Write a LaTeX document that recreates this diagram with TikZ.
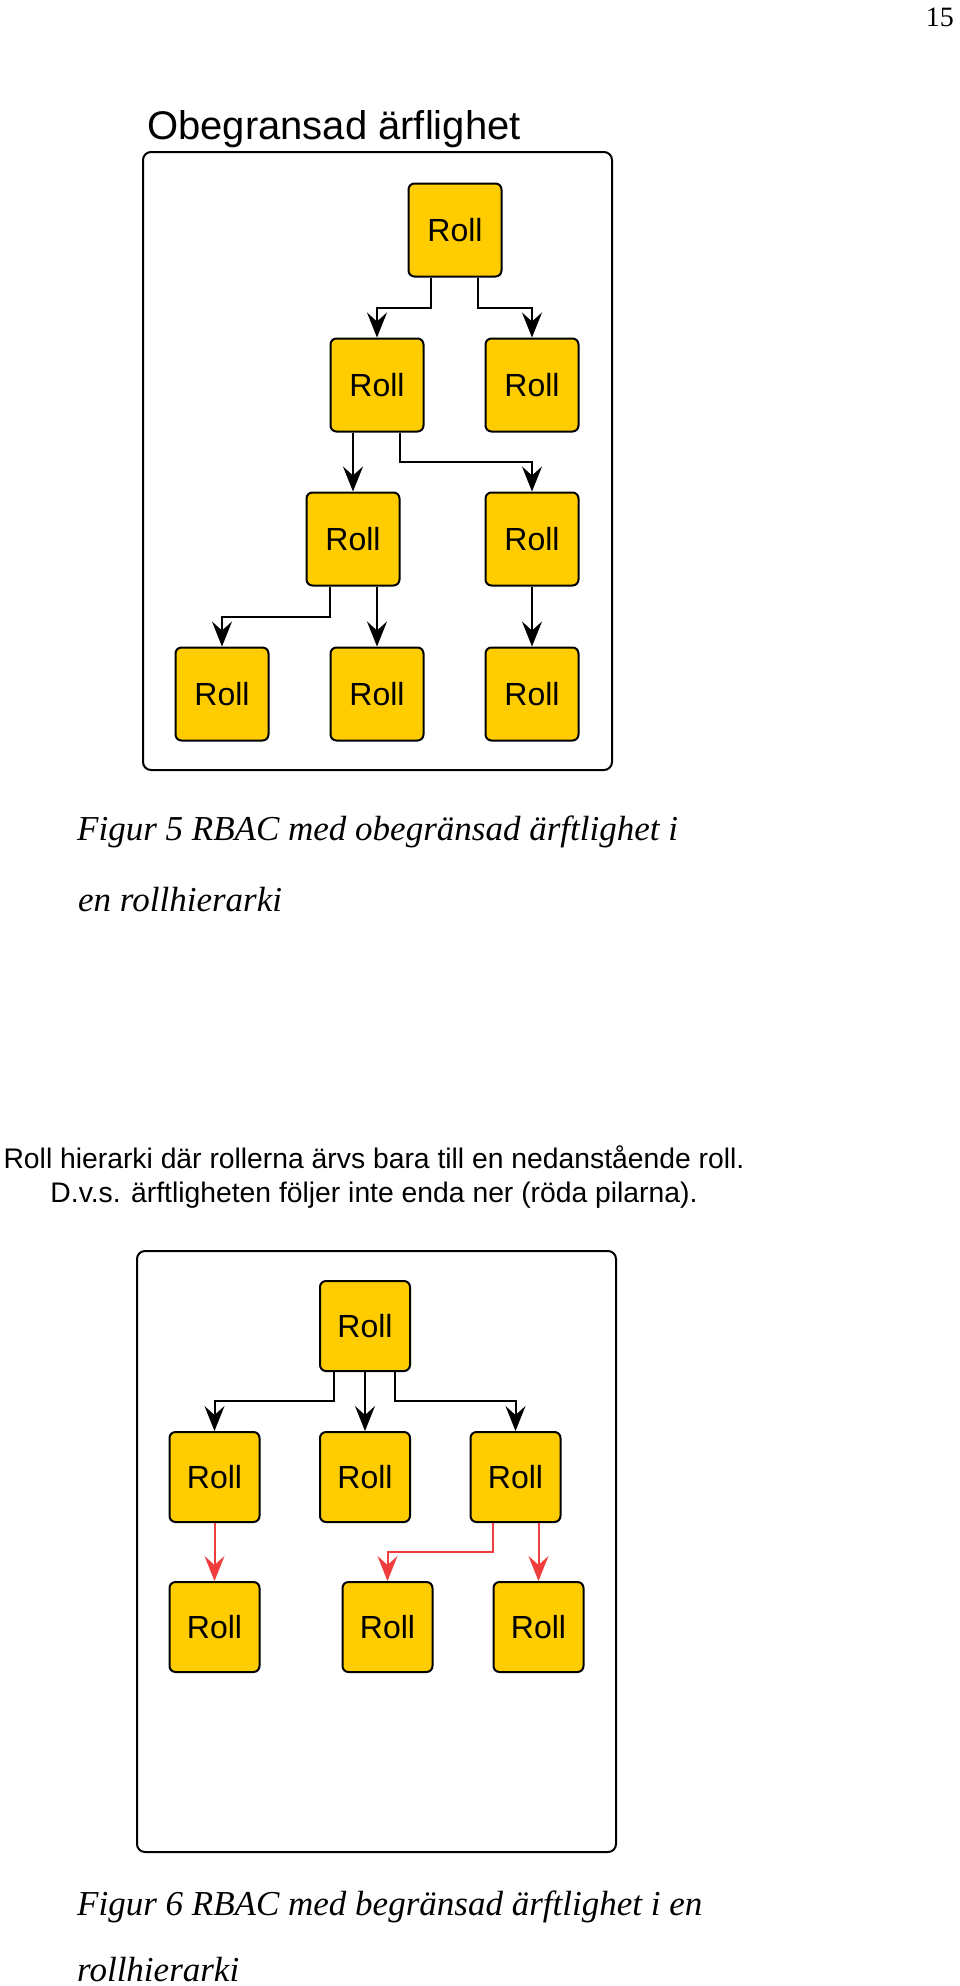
\documentclass[tikz,border=0pt]{standalone}
\usepackage{fontspec}
\setmainfont{Liberation Serif}
\setsansfont{Liberation Sans}
\usetikzlibrary{arrows.meta}
\definecolor{rollgul}{RGB}{255,204,0}
\definecolor{pilrod}{RGB}{240,62,62}

\begin{document}
\begin{tikzpicture}[x=1pt, y=-1pt,
     >={Stealth[length=25pt, width=20pt, inset=9pt]},
     font=\sffamily,
     roll/.style = {draw=black, fill=rollgul, line width=2pt,
        rounded corners=6pt, minimum width=93pt, minimum height=93pt,
        inner sep=0pt, font=\sffamily\fontsize{32}{32}\selectfont},
     ram/.style = {draw=black, line width=2pt, rounded corners=8pt},
     pil/.style = {->, line width=2pt, color=black},
     rodpil/.style = {->, line width=2pt, color=pilrod},
     figtext/.style = {anchor=base west, inner sep=0pt,
        font=\rmfamily\itshape\fontsize{35}{35}\selectfont},
     brodtext/.style = {anchor=base, inner sep=0pt,
        font=\sffamily\fontsize{28.3}{28.3}\selectfont}]
        \useasboundingbox (0,0) rectangle (960,1986);
        \node [anchor=base east, inner sep=0pt,
                font=\rmfamily\fontsize{28}{28}\selectfont]
            at (954,26) (sida) {15};

        % obegransad
        \node [anchor=base west, inner sep=0pt,
                font=\sffamily\fontsize{40}{40}\selectfont]
            at (147,139) (rubrik) {Obegransad ärflighet};
        \draw [ram] (143,152) rectangle (612,770);
        \node [roll] at (455,230) (t1) {Roll};
        \node [roll] at (377,385) (a1) {Roll};
        \node [roll] at (532,385) (a2) {Roll};
        \node [roll] at (353,539) (b1) {Roll};
        \node [roll] at (532,539) (b2) {Roll};
        \node [roll] at (222,694) (c1) {Roll};
        \node [roll] at (377,694) (c2) {Roll};
        \node [roll] at (532,694) (c3) {Roll};
        \draw [pil] ([xshift=-24pt]t1.south) -- ++(0,30) -| (a1.north);
        \draw [pil] ([xshift=23pt]t1.south) -- ++(0,30) -| (a2.north);
        \draw [pil] (a1.south -| b1.north) -- (b1.north);
        \draw [pil] ([xshift=23pt]a1.south) -- ++(0,29) -| (b2.north);
        \draw [pil] ([xshift=-23pt]b1.south) -- ++(0,30) -| (c1.north);
        \draw [pil] (b1.south -| c2.north) -- (c2.north);
        \draw [pil] (b2.south) -- (c3.north);

        \node [figtext] at (77,840) (fig5a)
            {Figur 5 RBAC med obegränsad ärftlighet i};
        \node [figtext] at (78,911) (fig5b) {en rollhierarki};

        \node [brodtext] at (374,1168) (rad1)
            {Roll hierarki där rollerna ärvs bara till en nedanstående roll.};
        \node [brodtext] at (374,1202) (rad2)
            {D.v.s. ärftligheten följer inte enda ner (röda pilarna).};

        % begransad
        \draw [ram] (137,1251) rectangle (616,1852);
        \node [roll, minimum width=90pt, minimum height=90pt]
            at (365,1326) (r0) {Roll};
        \node [roll, minimum width=90pt, minimum height=90pt]
            at (214.5,1477) (s1) {Roll};
        \node [roll, minimum width=90pt, minimum height=90pt]
            at (365,1477) (s2) {Roll};
        \node [roll, minimum width=90pt, minimum height=90pt]
            at (515.5,1477) (s3) {Roll};
        \node [roll, minimum width=90pt, minimum height=90pt]
            at (214.5,1627) (u1) {Roll};
        \node [roll, minimum width=90pt, minimum height=90pt]
            at (387.5,1627) (u2) {Roll};
        \node [roll, minimum width=90pt, minimum height=90pt]
            at (538.5,1627) (u3) {Roll};
        \draw [pil] ([xshift=-31pt]r0.south) -- ++(0,29) -| (s1.north);
        \draw [pil] (r0.south) -- (s2.north);
        \draw [pil] ([xshift=30pt]r0.south) -- ++(0,29) -| (s3.north);
        \draw [rodpil] (s1.south) -- (u1.north);
        \draw [rodpil] ([xshift=-22.5pt]s3.south) -- ++(0,29) -| (u2.north);
        \draw [rodpil] (s3.south -| u3.north) -- (u3.north);

        \node [figtext] at (77,1915) (fig6a)
            {Figur 6 RBAC med begränsad ärftlighet i en};
        \node [figtext] at (77,1981) (fig6b) {rollhierarki};
\end{tikzpicture}
\end{document}
